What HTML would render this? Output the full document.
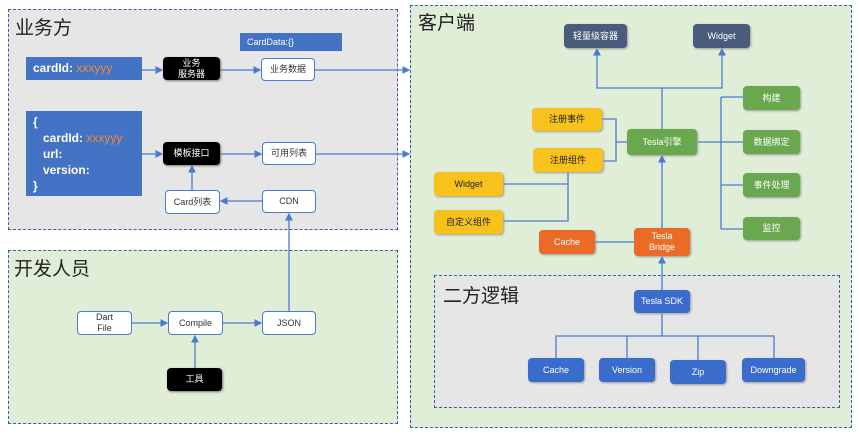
<!DOCTYPE html>
<html><head><meta charset="utf-8"><style>
body{margin:0;width:860px;height:434px;background:#fff;overflow:hidden;font-family:"Liberation Sans","Noto Sans CJK SC",sans-serif;}
.a{position:absolute;box-sizing:border-box;}
.n{position:absolute;box-sizing:border-box;display:flex;align-items:center;justify-content:center;text-align:center;font-size:9px;line-height:11px;border-radius:4px;}
.w{background:#fff;border:1.5px solid #4a7bd0;color:#333;}
.k{background:#000;color:#fff;box-shadow:1px 1px 2px #777;}
.g{background:#6aa84f;color:#fff;box-shadow:1px 1px 2px #999;}
.y{background:#f6c21b;color:#222;box-shadow:1px 1px 2px #999;}
.o{background:#ea6b26;color:#fff;box-shadow:1px 1px 2px #999;}
.d{background:#4a5b7c;color:#fff;box-shadow:1px 1px 2px #999;}
.b{background:#3a6ccc;color:#fff;box-shadow:1px 1px 2px #999;}
.t{position:absolute;font-size:19px;color:#222;}
</style></head><body>
<div class="a" style="left:8px;top:9px;width:390px;height:221px;background:#e6e6e6;border:1.5px dashed #3d5d9c"></div>
<div class="a" style="left:8px;top:250px;width:390px;height:174px;background:#e0eed8;border:1.5px dashed #3d5d9c"></div>
<div class="a" style="left:410px;top:5px;width:442px;height:423px;background:#e0eed8;border:1.5px dashed #3d5d9c"></div>
<div class="a" style="left:434px;top:275px;width:406px;height:133px;background:#e6e6e6;border:1.5px dashed #3d5d9c"></div>
<div class="t" style="left:15px;top:13px">业务方</div>
<div class="t" style="left:14px;top:254px">开发人员</div>
<div class="t" style="left:418px;top:8px">客户端</div>
<div class="t" style="left:443px;top:281px">二方逻辑</div>

<svg class="a" style="left:0;top:0" width="860" height="434">
<defs><marker id="m" markerWidth="6" markerHeight="6" refX="5" refY="3" orient="auto"><path d="M0,0L6,3L0,6z" fill="#4a7bd0"/></marker></defs>
<g stroke="#4a7bd0" stroke-width="1.3" fill="none">
<path d="M142,70H162" marker-end="url(#m)"/>
<path d="M220,70H260" marker-end="url(#m)"/>
<path d="M315,70H409" marker-end="url(#m)"/>
<path d="M142,154H162" marker-end="url(#m)"/>
<path d="M220,154H261" marker-end="url(#m)"/>
<path d="M316,154H409" marker-end="url(#m)"/>
<path d="M262,201H221" marker-end="url(#m)"/>
<path d="M192,190V166" marker-end="url(#m)"/>
<path d="M289,311V214" marker-end="url(#m)"/>
<path d="M132,323H167" marker-end="url(#m)"/>
<path d="M223,323H261" marker-end="url(#m)"/>
<path d="M195,368V336" marker-end="url(#m)"/>
<path d="M662,129V88H597V49" marker-end="url(#m)"/>
<path d="M662,88H722V49" marker-end="url(#m)"/>
<path d="M697,142H743M721,97V229M721,97H743M721,185H743M721,229H743"/>
<path d="M602,119H616V161H603M616,142H627"/>
<path d="M568,172V221H503M568,184H503"/>
<path d="M595,242H634"/>
<path d="M662,228V156" marker-end="url(#m)"/>
<path d="M662,290V257" marker-end="url(#m)"/>
<path d="M662,313V336M556,358V336H774V358M627,336V358M698,336V360"/>
</g></svg>

<div class="a" style="left:240px;top:33px;width:102px;height:18px;background:#4472c4;color:#fff;font-size:9px;padding:4px 0 0 7px">CardData:{}</div>
<div class="a" style="left:26px;top:57px;width:116px;height:23px;background:#4472c4;color:#fff;font-size:12px;font-weight:bold;padding:4px 0 0 7px">cardId: <span style="color:#f08a3c;font-weight:normal">xxxyyy</span></div>
<div class="a" style="left:26px;top:111px;width:116px;height:85px;background:#4472c4;color:#fff;font-size:12px;font-weight:bold;line-height:16px;padding:3px 0 0 7px">{<br>&nbsp;&nbsp;&nbsp;cardId: <span style="color:#f08a3c;font-weight:normal">xxxyyy</span><br>&nbsp;&nbsp;&nbsp;url:<br>&nbsp;&nbsp;&nbsp;version:<br>}</div>
<div class="n k" style="left:163px;top:57px;width:57px;height:23px">业务<br>服务器</div>
<div class="n w" style="left:261px;top:58px;width:54px;height:23px">业务数据</div>
<div class="n k" style="left:163px;top:142px;width:57px;height:23px">模板接口</div>
<div class="n w" style="left:262px;top:142px;width:54px;height:23px">可用列表</div>
<div class="n w" style="left:165px;top:190px;width:55px;height:24px">Card列表</div>
<div class="n w" style="left:262px;top:190px;width:54px;height:23px">CDN</div>
<div class="n w" style="left:77px;top:311px;width:55px;height:24px">Dart<br>File</div>
<div class="n w" style="left:168px;top:311px;width:55px;height:24px">Compile</div>
<div class="n w" style="left:262px;top:311px;width:54px;height:24px">JSON</div>
<div class="n k" style="left:167px;top:368px;width:55px;height:23px">工具</div>

<div class="n d" style="left:564px;top:24px;width:63px;height:24px">轻量级容器</div>
<div class="n d" style="left:693px;top:24px;width:57px;height:24px">Widget</div>
<div class="n g" style="left:743px;top:86px;width:57px;height:24px">构建</div>
<div class="n g" style="left:743px;top:130px;width:57px;height:24px">数据绑定</div>
<div class="n g" style="left:743px;top:173px;width:57px;height:24px">事件处理</div>
<div class="n g" style="left:743px;top:217px;width:57px;height:23px">监控</div>
<div class="n g" style="left:627px;top:129px;width:70px;height:26px">Tesla引擎</div>
<div class="n y" style="left:532px;top:108px;width:70px;height:23px">注册事件</div>
<div class="n y" style="left:533px;top:148px;width:70px;height:24px">注册组件</div>
<div class="n y" style="left:434px;top:172px;width:69px;height:24px">Widget</div>
<div class="n y" style="left:434px;top:210px;width:69px;height:24px">自定义组件</div>
<div class="n o" style="left:539px;top:230px;width:56px;height:24px">Cache</div>
<div class="n o" style="left:634px;top:228px;width:56px;height:28px">Tesla<br>Bridge</div>
<div class="n b" style="left:634px;top:290px;width:56px;height:23px">Tesla SDK</div>
<div class="n b" style="left:528px;top:358px;width:56px;height:24px">Cache</div>
<div class="n b" style="left:599px;top:358px;width:56px;height:24px">Version</div>
<div class="n b" style="left:670px;top:360px;width:56px;height:24px">Zip</div>
<div class="n b" style="left:742px;top:358px;width:63px;height:24px">Downgrade</div>
</body></html>
